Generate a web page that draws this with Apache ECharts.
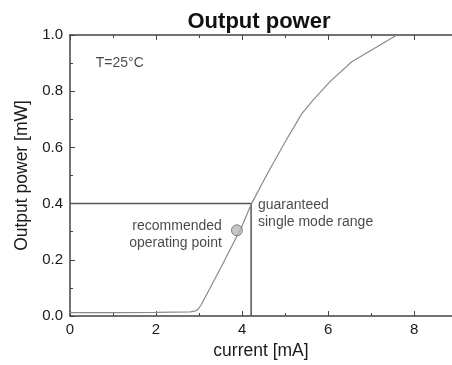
<!DOCTYPE html>
<html><head><meta charset="utf-8">
<script src="https://cdn.jsdelivr.net/npm/echarts@6/dist/echarts.min.js"></script>
<style>html,body{margin:0;padding:0;background:#fff}#c{width:452px;height:365px}</style>
</head><body><div id="c"></div>
<script>
// Light output vs current (T=25°C)
const currentMA = [0, 1, 2, 2.8, 2.92, 2.98, 3.05, 3.5, 4.0, 4.22, 4.6, 5.04, 5.39, 5.66, 6.05, 6.55, 7.1, 7.6];
const powerMW   = [0.012, 0.012, 0.013, 0.015, 0.018, 0.025, 0.04, 0.17, 0.32, 0.40, 0.51, 0.63, 0.72, 0.77, 0.835, 0.905, 0.955, 1.0];
const opPoint = [3.88, 0.305];
const rangeLimitX = [0, 4.21, 4.21];
const rangeLimitY = [0.4, 0.4, 0];
const xTicks = [0, 2, 4, 6, 8];
const yTicks = [0.0, 0.2, 0.4, 0.6, 0.8, 1.0];
const xMax = 8.88;

const font = 'Liberation Sans, Arial, Helvetica, sans-serif';
const chart = echarts.init(document.getElementById('c'));
const axisCol = '#444';
const txt = '#1a1a1a';
chart.setOption({
  animation: false,
  title: { text: 'Output power', left: 254, textAlign: 'center', top: 6,
    textStyle: { fontFamily: font, fontSize: 22, fontWeight: 'bold', color: '#111' } },
  grid: { left: 70, top: 35, right: 0, bottom: 47 },
  xAxis: [{
    type: 'value', min: 0, max: xMax, interval: 2,
    name: 'current [mA]', nameLocation: 'middle', nameGap: 26,
    nameTextStyle: { fontFamily: font, fontSize: 17.5, color: txt },
    axisLine: { lineStyle: { color: axisCol, width: 1.5 } },
    axisTick: { inside: true, length: 5, lineStyle: { color: axisCol } },
    minorTick: { show: true, splitNumber: 2, length: 3, lineStyle: { color: axisCol } },
    axisLabel: { fontFamily: font, fontSize: 15, color: txt, margin: 6, showMaxLabel: false,
      formatter: v => xTicks.includes(v) ? String(v) : '' },
    splitLine: { show: false }
  }, {
    type: 'value', position: 'top', min: 0, max: xMax, interval: 2,
    axisLine: { lineStyle: { color: axisCol, width: 1.5 } },
    axisTick: { inside: true, length: 5, lineStyle: { color: axisCol } },
    minorTick: { show: true, splitNumber: 2, length: 3, lineStyle: { color: axisCol } },
    axisLabel: { show: false }, splitLine: { show: false }
  }],
  yAxis: {
    type: 'value', min: 0, max: 1, interval: 0.2,
    name: 'Output power [mW]', nameLocation: 'middle', nameGap: 36,
    nameTextStyle: { fontFamily: font, fontSize: 17.5, color: txt },
    axisLine: { show: true, lineStyle: { color: axisCol, width: 1.5 } },
    axisTick: { inside: true, length: 5, lineStyle: { color: axisCol } },
    minorTick: { show: true, splitNumber: 2, length: 3, lineStyle: { color: axisCol } },
    axisLabel: { fontFamily: font, fontSize: 15, color: txt, margin: 7,
      formatter: v => v.toFixed(1) },
    splitLine: { show: false }
  },
  series: [
    { type: 'line', data: currentMA.map((x, i) => [x, powerMW[i]]), symbol: 'none',
      lineStyle: { color: '#8a8a8a', width: 1.2 }, z: 3 },
    { type: 'line', data: rangeLimitX.map((x, i) => [x, rangeLimitY[i]]), symbol: 'none',
      lineStyle: { color: '#555', width: 1.5 }, z: 2 },
    { type: 'scatter', data: [opPoint], symbol: 'circle', symbolSize: 11,
      itemStyle: { color: '#b8b8b8', borderColor: '#666', borderWidth: 1 }, z: 4 },
    { type: 'scatter', symbolSize: 0, silent: true,
      data: [
        { value: [0.6, 0.9], label: { formatter: 'T=25°C', align: 'left' } },
        { value: [3.53, 0.288], label: { formatter: 'recommended\noperating point', align: 'right' } },
        { value: [4.37, 0.364], label: { formatter: 'guaranteed\nsingle mode range', align: 'left' } }
      ],
      label: { show: true, position: 'inside', verticalAlign: 'middle',
        fontFamily: font, fontSize: 14, color: txt, lineHeight: 17 } }
  ]
});
</script></body></html>
